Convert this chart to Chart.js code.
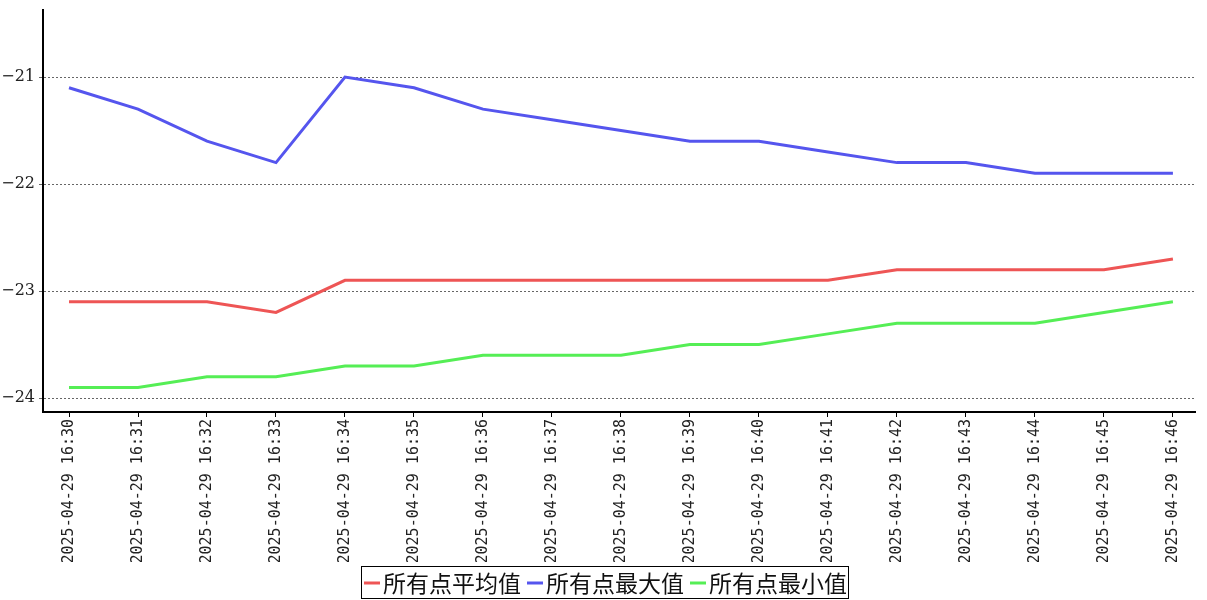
<!DOCTYPE html>
<html><head><meta charset="utf-8">
<script src="https://cdn.jsdelivr.net/npm/chart.js@4.4.1/dist/chart.umd.min.js"></script>
<style>html,body{margin:0;padding:0;background:#fff;}#wrap{width:1207px;height:600px;}</style>
</head><body><div id="wrap"><canvas id="c" width="1207" height="600"></canvas></div>
<script>
const categories = ["2025-04-29 16:30","2025-04-29 16:31","2025-04-29 16:32","2025-04-29 16:33","2025-04-29 16:34","2025-04-29 16:35","2025-04-29 16:36","2025-04-29 16:37","2025-04-29 16:38","2025-04-29 16:39","2025-04-29 16:40","2025-04-29 16:41","2025-04-29 16:42","2025-04-29 16:43","2025-04-29 16:44","2025-04-29 16:45","2025-04-29 16:46"];
const avgValues = [-23.1,-23.1,-23.1,-23.2,-22.9,-22.9,-22.9,-22.9,-22.9,-22.9,-22.9,-22.9,-22.8,-22.8,-22.8,-22.8,-22.7];
const maxValues = [-21.1,-21.3,-21.6,-21.8,-21.0,-21.1,-21.3,-21.4,-21.5,-21.6,-21.6,-21.7,-21.8,-21.8,-21.9,-21.9,-21.9];
const minValues = [-23.9,-23.9,-23.8,-23.8,-23.7,-23.7,-23.6,-23.6,-23.6,-23.5,-23.5,-23.4,-23.3,-23.3,-23.3,-23.2,-23.1];
const seriesNames = ["所有点平均值","所有点最大值","所有点最小值"];
const seriesColors = ["#ee5555","#5555ee","#55ee55"];
const yTicks = [-24,-23,-22,-21];

const toPts = arr => arr.map((v,i)=>({x:i,y:v}));
const datasets = [avgValues,maxValues,minValues].map((arr,k)=>({
  label: seriesNames[k], data: toPts(arr), borderColor: seriesColors[k], backgroundColor: seriesColors[k],
  borderWidth: 3, pointRadius: 0, tension: 0, fill: false
}));

const legendPlugin = {
  id: 'boxLegend',
  afterDraw(chart){
    const ctx = chart.ctx;
    ctx.save();
    ctx.font = '23px "Noto Sans CJK SC"';
    ctx.textBaseline = 'middle';
    const sw = 16, gap = 3, itemGap = 6;
    let total = 0;
    const widths = seriesNames.map(n=>ctx.measureText(n).width);
    widths.forEach(w=>{ total += sw + gap + w; });
    total += itemGap*(seriesNames.length-1);
    const padX = 2;
    const boxW = total + padX*2;
    const left = 361, top = 566, h = 32;
    ctx.strokeStyle = '#000'; ctx.lineWidth = 1;
    ctx.strokeRect(left+0.5, top+0.5, boxW, h);
    let x = left + padX + 1;
    const cy = top + h/2 + 1;
    seriesNames.forEach((n,k)=>{
      ctx.strokeStyle = seriesColors[k]; ctx.lineWidth = 3;
      ctx.beginPath(); ctx.moveTo(x, cy); ctx.lineTo(x+sw, cy); ctx.stroke();
      x += sw + gap;
      ctx.fillStyle = '#111';
      ctx.fillText(n, x, cy);
      x += widths[k] + itemGap;
    });
    ctx.restore();
  }
};

new Chart(document.getElementById('c'), {
  type: 'line',
  data: { datasets },
  options: {
    responsive: false, animation: false,
    layout: { padding: { top: 10, right: 12, left: 0, bottom: 38 } },
    plugins: { legend: { display: false }, tooltip: { enabled: false } },
    scales: {
      x: {
        type: 'linear', min: -0.377, max: 16.32,
        afterBuildTicks(s){ s.ticks = categories.map((c,i)=>({value:i})); },
        afterFit(s){ s.height = 150; s.paddingLeft = 0; s.paddingRight = 0; },
        ticks: { autoSkip: false, minRotation: 90, maxRotation: 90, padding: 2,
          font: { family: '"DejaVu Sans Mono"', size: 15 }, color: '#222',
          callback: (v)=>categories[v] },
        grid: { drawOnChartArea: false, tickLength: 5, color: '#000', lineWidth: 1 },
        border: { display: true, color: '#000', width: 2 }
      },
      y: {
        type: 'linear', min: -24.13, max: -20.374,
        afterBuildTicks(s){ s.ticks = yTicks.map(v=>({value:v})); },
        afterFit(s){ s.width = 43; s.paddingTop = 0; s.paddingBottom = 0; },
        ticks: { padding: 4, font: { family: '"DejaVu Serif"', size: 16 }, color: '#222',
          callback: v=>'\u2212'+Math.abs(v) },
        grid: { color: '#666', lineWidth: 1, tickLength: 4, tickBorderDash: [] },
        border: { display: true, color: '#000', width: 2, dash: [2,2] }
      }
    }
  },
  plugins: [legendPlugin]
});
</script></body></html>
